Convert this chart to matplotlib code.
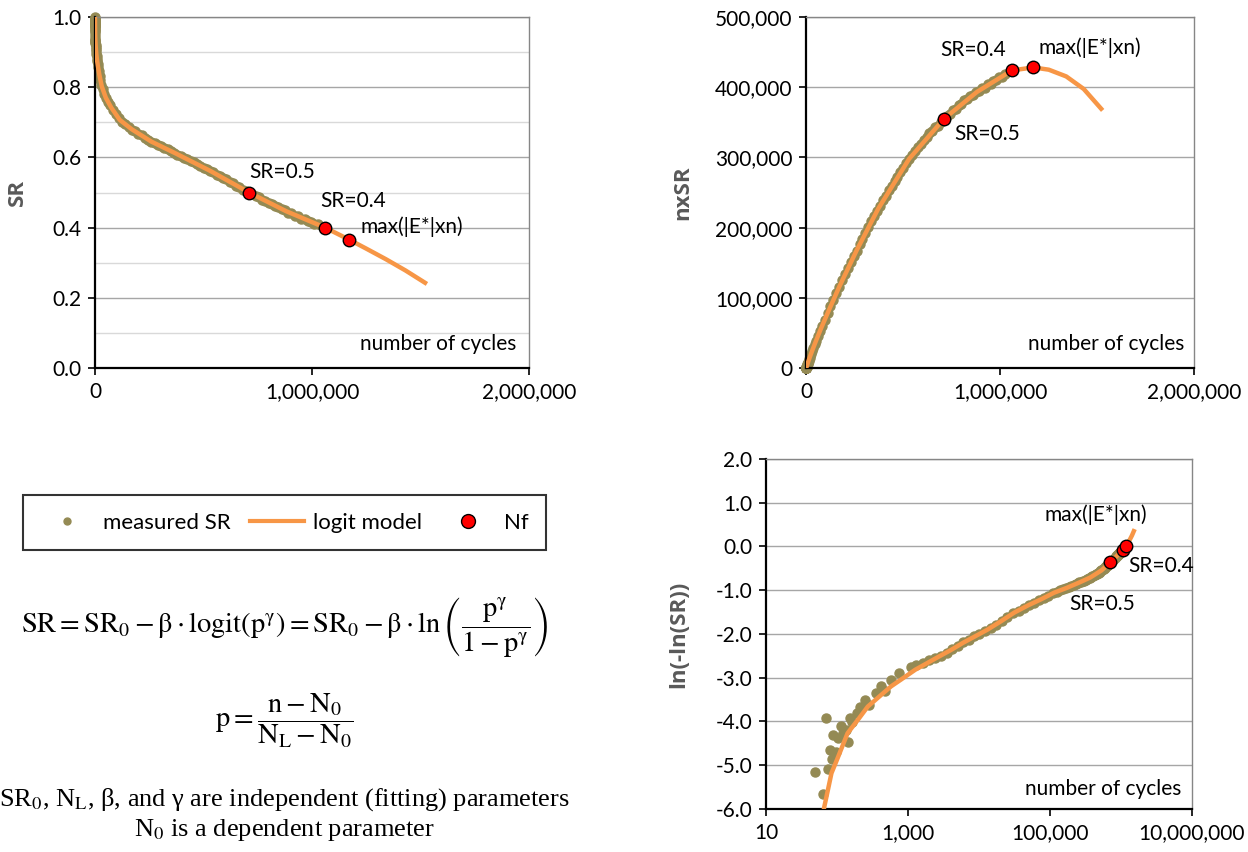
import numpy as np
import matplotlib.pyplot as plt
from matplotlib.lines import Line2D
from matplotlib.ticker import FuncFormatter, MultipleLocator, NullLocator

plt.rcParams['font.family'] = ['Lato', 'DejaVu Sans']
plt.rcParams['axes.unicode_minus'] = False
plt.rcParams['mathtext.fontset'] = 'stix'

# measured stiffness ratio (SR) vs number of cycles
meas_n = [0, 49, 63, 69, 74, 79, 84, 87, 95, 102, 112, 121, 132, 144, 150, 160,
          193, 207, 250, 285, 347, 420, 475, 580, 750, 1100,
          1300, 1600, 2000, 2400, 2900, 3500, 4200, 5000, 6000, 7200, 8600,
          10000, 12000, 14500, 17500, 21000, 25000, 30000, 36000, 43000, 51000,
          60000, 70000, 82000, 95000, 110000, 125000, 140000, 155000, 170000,
          185000, 200000, 215000, 230000, 245000, 260000, 275000, 290000,
          305000, 320000, 335000, 350000, 365000, 380000, 395000, 410000,
          425000, 440000, 455000, 470000, 485000, 500000, 515000, 530000,
          545000, 560000, 575000, 590000, 605000, 620000, 635000, 650000,
          665000, 680000, 695000, 710000, 725000, 740000, 755000, 770000,
          785000, 800000, 815000, 830000, 845000, 860000, 875000, 890000,
          905000, 920000, 935000, 950000, 965000, 980000, 995000, 1010000,
          1025000]
meas_sr = [1.0, 0.9943, 0.9965, 0.9806, 0.9939, 0.9905, 0.9923, 0.9867, 0.9909,
           0.9876, 0.9836, 0.9861, 0.9850, 0.9887, 0.9806, 0.9819,
           0.9781, 0.9746, 0.9705, 0.9736, 0.9659, 0.9600, 0.9638, 0.9537,
           0.9465, 0.9381,
           0.936, 0.933, 0.928, 0.925, 0.921, 0.916, 0.909, 0.903, 0.894, 0.888,
           0.880, 0.874, 0.866, 0.857, 0.846, 0.833, 0.821, 0.806, 0.795, 0.782,
           0.769, 0.759, 0.748, 0.735, 0.724, 0.711, 0.702, 0.694, 0.687, 0.679,
           0.675, 0.668, 0.663, 0.656, 0.651, 0.644, 0.641, 0.636,
           0.633, 0.626, 0.624, 0.617, 0.614, 0.608, 0.605, 0.599,
           0.596, 0.590, 0.587, 0.580, 0.577, 0.570, 0.568, 0.561,
           0.558, 0.551, 0.548, 0.541, 0.538, 0.531, 0.527, 0.519,
           0.516, 0.508, 0.505, 0.499, 0.496, 0.489, 0.486, 0.480,
           0.477, 0.470, 0.468, 0.461, 0.458, 0.452, 0.450, 0.443,
           0.441, 0.434, 0.432, 0.426, 0.424, 0.418, 0.416, 0.411,
           0.409]

# fitted logit model curve
model_n = [0, 60, 65, 75, 83, 100, 140, 200, 270, 400, 575, 800, 1260, 1800,
           2700, 4000, 6000, 8700, 13000, 20000, 31500, 50000, 75000, 114000,
           170000, 260000, 370000, 530000, 710000, 880000, 1060000, 1170000,
           1250000, 1340000, 1430000, 1520000]
model_sr = [1.0, 0.999, 0.9975, 0.9960, 0.9944, 0.9923, 0.9861, 0.9808, 0.9746,
            0.9678, 0.9600, 0.9533, 0.9421, 0.9337, 0.9227, 0.9107, 0.8951,
            0.8803, 0.862, 0.836, 0.802, 0.770, 0.742, 0.707, 0.680, 0.645,
            0.612, 0.562, 0.500, 0.447, 0.400, 0.366, 0.340, 0.310, 0.278,
            0.243]

# failure definitions
nf_n = [710000, 1060000, 1170000]
nf_sr = [0.5, 0.4, 0.366]
nf_labels = ['SR=0.5', 'SR=0.4', 'max(|E*|xn)']

OLIVE = '#948A54'
ORANGE = '#F79646'
GRID = '#A6A6A6'
LABEL_GREY = '#595959'
FS = 15

meas_n = np.array(meas_n, dtype=float)
meas_sr = np.array(meas_sr)
model_n = np.array(model_n, dtype=float)
model_sr = np.array(model_sr)
nf_n = np.array(nf_n, dtype=float)
nf_sr = np.array(nf_sr)


def lnln(sr):
    with np.errstate(divide='ignore'):
        return np.log(-np.log(sr))


def comma(v, pos):
    return f'{v:,.0f}'


def style(ax, text_xy, ylabel, label_x):
    for s in ['left', 'bottom']:
        ax.spines[s].set_color('black')
        ax.spines[s].set_linewidth(1.6)
    for s in ['top', 'right']:
        ax.spines[s].set_color('#868686')
        ax.spines[s].set_linewidth(1.0)
    ax.tick_params(which='major', direction='out', length=5, width=1.2,
                   labelsize=FS, pad=5)
    ax.tick_params(which='minor', length=0)
    ax.yaxis.grid(True, color=GRID, lw=1.0)
    ax.set_axisbelow(True)
    ax.text(text_xy[0], text_xy[1], 'number of cycles', transform=ax.transAxes,
            ha='right', va='center', fontsize=FS)
    ax.set_ylabel(ylabel, fontsize=16, fontweight='bold', color=LABEL_GREY,
                  family=['Open Sans', 'DejaVu Sans'])
    ax.yaxis.set_label_coords(label_x, 0.5)


def draw(ax, x, y, mx, my, fx, fy):
    ax.plot(x, y, 'o', ms=6.5, color=OLIVE, mec=OLIVE, zorder=2, clip_on=False)
    ax.plot(mx, my, color=ORANGE, lw=3.2, zorder=3)
    ax.plot(fx, fy, 'o', ms=9, mfc='#FF0000', mec='black', mew=1, zorder=4,
            clip_on=False)


def label_nf(ax, ys, offsets, aligns):
    for n, s, lab, off, ha in zip(nf_n, ys, nf_labels, offsets, aligns):
        ax.annotate(lab, (n, s), xytext=off, textcoords='offset pixels',
                    ha=ha, va='center', fontsize=FS)


fig = plt.figure(figsize=(12.48, 8.52), dpi=100)

# SR vs n
ax1 = fig.add_axes([0.0761, 0.568, 0.348, 0.412])
draw(ax1, meas_n, meas_sr, model_n, model_sr, nf_n, nf_sr)
ax1.set_xlim(0, 2000000)
ax1.set_ylim(0, 1.0)
ax1.set_xticks([0, 1000000, 2000000])
ax1.xaxis.set_major_formatter(FuncFormatter(comma))
ax1.yaxis.set_major_locator(MultipleLocator(0.2))
ax1.yaxis.set_minor_locator(MultipleLocator(0.1))
ax1.yaxis.set_major_formatter(FuncFormatter(lambda v, p: f'{v:.1f}'))
style(ax1, (0.97, 0.068), 'SR', -0.155)
ax1.yaxis.grid(True, which='minor', color='#D9D9D9', lw=1.0)
label_nf(ax1, nf_sr, [(0, 21), (-5, 27), (11, 13)], ['left', 'left', 'left'])

# n x SR vs n
ax2 = fig.add_axes([0.646, 0.568, 0.311, 0.412])
draw(ax2, meas_n, meas_n * meas_sr, model_n, model_n * model_sr,
     nf_n, nf_n * nf_sr)
ax2.set_xlim(0, 2000000)
ax2.set_ylim(0, 500000)
ax2.set_xticks([0, 1000000, 2000000])
ax2.xaxis.set_major_formatter(FuncFormatter(comma))
ax2.yaxis.set_major_locator(MultipleLocator(100000))
ax2.yaxis.set_major_formatter(FuncFormatter(comma))
style(ax2, (0.975, 0.068), 'nxSR', -0.29)
label_nf(ax2, nf_n * nf_sr, [(10, -15), (-6, 20), (5, 20)],
         ['left', 'right', 'left'])

# ln(-ln(SR)) vs n (log)
ax3 = fig.add_axes([0.614, 0.0505, 0.341, 0.411])
keep = (meas_n > 0) & (meas_sr < 1)
mkeep = (model_n > 0) & (model_sr < 1)
draw(ax3, meas_n[keep], lnln(meas_sr[keep]), model_n[mkeep],
     lnln(model_sr[mkeep]), nf_n, lnln(nf_sr))
ax3.set_xscale('log')
ax3.set_xlim(10, 1e7)
ax3.set_ylim(-6, 2)
ax3.set_xticks([10, 1e3, 1e5, 1e7])
ax3.xaxis.set_minor_locator(NullLocator())
ax3.xaxis.set_major_formatter(FuncFormatter(comma))
ax3.yaxis.set_major_locator(MultipleLocator(1.0))
ax3.yaxis.set_major_formatter(FuncFormatter(lambda v, p: f'{v:.1f}'))
style(ax3, (0.975, 0.058), 'ln(-ln(SR))', -0.18)
label_nf(ax3, lnln(nf_sr), [(-8, -42), (6, -16), (-30, 31)],
         ['center', 'left', 'center'])

# legend box
handles = [Line2D([], [], marker='o', ls='none', color=OLIVE, ms=5),
           Line2D([], [], color=ORANGE, lw=3),
           Line2D([], [], marker='o', ls='none', mfc='#FF0000', mec='black',
                  ms=10)]
leg = fig.legend(handles, ['measured SR', 'logit model', 'Nf'], loc='center',
                 bbox_to_anchor=(0.228, 0.3865), ncol=3, fontsize=16,
                 frameon=True, fancybox=False, handlelength=2.4,
                 borderpad=0.8, columnspacing=0.9, handletextpad=0.4,
                 borderaxespad=0)
leg.get_frame().set_edgecolor('black')
leg.get_frame().set_linewidth(1.5)

# model equations
cx = 0.228
fig.text(cx, 1 - 627 / 852,
         r'$\mathrm{SR} = \mathrm{SR}_0 - \mathrm{β} \cdot \mathrm{logit}(\mathrm{p}^{\mathrm{γ}})'
         r' = \mathrm{SR}_0 - \mathrm{β} \cdot \ln\left(\dfrac{\mathrm{p}^{\mathrm{γ}}}'
         r'{1 - \mathrm{p}^{\mathrm{γ}}}\right)$',
         ha='center', va='center', fontsize=20.5)
fig.text(cx, 1 - 721 / 852,
         r'$\mathrm{p} = \dfrac{\mathrm{n} - \mathrm{N}_0}{\mathrm{N}_\mathrm{L} - \mathrm{N}_0}$',
         ha='center', va='center', fontsize=20.5)
fig.text(cx, 1 - 800 / 852,
         r'SR$_0$, N$_\mathrm{L}$, β, and γ are independent (fitting) parameters',
         ha='center', va='center', fontsize=19, family='Liberation Serif')
fig.text(cx, 1 - 830 / 852, r'N$_0$ is a dependent parameter',
         ha='center', va='center', fontsize=19, family='Liberation Serif')

fig.savefig('out.png', dpi=100)
